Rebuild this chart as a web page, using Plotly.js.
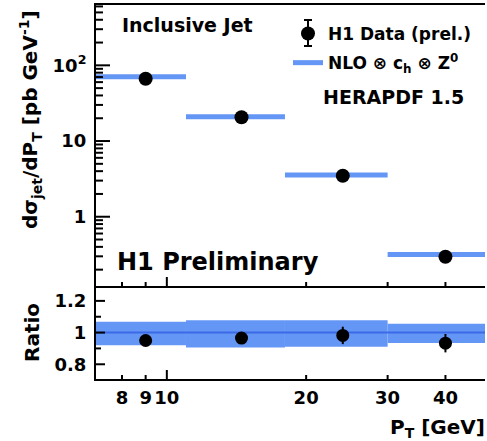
<!DOCTYPE html>
<html><head><meta charset="utf-8">
<script src="https://cdn.plot.ly/plotly-3.0.1.min.js"></script>
<style>html,body{margin:0;padding:0;background:#fff}#plot{width:487px;height:441px}</style>
</head><body><div id="plot"></div>
<script>
// ---- data ----
const binLo = [7, 11, 18, 30];
const binHi = [11, 18, 30, 50];
const ptCenter = [9, 14.5, 24, 40];
const xsecData = [66.5, 20.6, 3.48, 0.296];
const xsecErr = [2.0, 0.6, 0.2, 0.018];
const xsecNLO = [70.6, 20.9, 3.56, 0.318];
const ratioData = [0.95, 0.965, 0.982, 0.933];
const ratioErr = [0.03, 0.03, 0.055, 0.058];
const bandUp = [1.068, 1.078, 1.078, 1.055];
const bandDn = [0.920, 0.906, 0.910, 0.935];
const xTicks = [8, 9, 10, 20, 30, 40];
const xTickText = ['8', '9', '10', '20', '30', '40'];
const xMajor = [10];
const yMajor = [1, 10, 100];
const yTickAlias = {'100': '10<sup>2</sup>'};
const ratioMajor = [0.8, 1, 1.2];
const ratioMinor = [0.9, 1.1];

// ---- style ----
const FONT = 'DejaVu Sans';
const BAND = '#6496f5';
const LINE = '#3a6ae8';
const W = 487, H = 441, ML = 96, MR = 2, MT = 5, MB = 62;
const PW = W - ML - MR, PH = H - MT - MB;
const px = v => (v - ML) / PW;
const py = v => (H - MB - v) / PH;
const split = py(286);
const XR = [Math.log10(7.03), Math.log10(48.7)];
const YR2 = [-0.915, 2.797];

const traces = [];
for (let i = 0; i < binLo.length; i++) {
  traces.push({
    x: [binLo[i], binHi[i], binHi[i], binLo[i], binLo[i]],
    y: [bandDn[i], bandDn[i], bandUp[i], bandUp[i], bandDn[i]],
    xaxis: 'x', yaxis: 'y', mode: 'lines', fill: 'toself',
    fillcolor: BAND, line: {width: 0, color: BAND}, showlegend: false, hoverinfo: 'skip'
  });
}
traces.push({
  x: [binLo[0], binHi[binHi.length - 1]], y: [1, 1], xaxis: 'x', yaxis: 'y',
  mode: 'lines', line: {color: LINE, width: 2}, showlegend: false
});
traces.push({
  x: ptCenter, y: ratioData, xaxis: 'x', yaxis: 'y', mode: 'markers',
  marker: {color: 'black', size: 13},
  error_y: {type: 'data', array: ratioErr, visible: true, color: 'black', thickness: 2, width: 0},
  showlegend: false
});
const nloX = [], nloY = [];
for (let i = 0; i < binLo.length; i++) {
  nloX.push(binLo[i], binHi[i], null);
  nloY.push(xsecNLO[i], xsecNLO[i], null);
}
traces.push({
  x: nloX, y: nloY, xaxis: 'x2', yaxis: 'y2', mode: 'lines',
  line: {color: BAND, width: 5}, name: 'NLO \u2297 c<sub>h</sub> \u2297 Z<sup>0</sup>',
  legendrank: 2, legendgroup: 'b', connectgaps: false
});
traces.push({
  x: ptCenter, y: xsecData, xaxis: 'x2', yaxis: 'y2', mode: 'markers',
  marker: {color: 'black', size: 14},
  error_y: {type: 'data', array: xsecErr, visible: true, color: 'black', thickness: 2, width: 4},
  name: 'H1 Data (prel.)', legendrank: 1, legendgroup: 'a'
});

// minor tick positions of the log axis (2..9 per decade) inside the shown range
const yMinor = [];
[0.1, 1, 10, 100].forEach(d => { for (let k = 2; k <= 9; k++) {
  const v = k * d; const lv = Math.log10(v);
  if (lv > YR2[0] && lv < YR2[1]) yMinor.push(v);
} });

// tick marks: value placed through the axis scale, length in paper units
const TICK = {color: 'black', width: 2};
const yTick = (ref, v, len) => ({type: 'line', layer: 'above', xref: 'paper', x0: 0, x1: len / PW, yref: ref, y0: v, y1: v, line: TICK});
const xTick = (ref, base, v, len) => ({type: 'line', layer: 'above', xref: ref, x0: v, x1: v, yref: 'paper', y0: base, y1: base + len / PH, line: TICK});
const tickShapes = [];
yMajor.forEach(v => tickShapes.push(yTick('y2', v, 14)));
yMinor.forEach(v => tickShapes.push(yTick('y2', v, 7)));
ratioMajor.forEach(v => tickShapes.push(yTick('y', v, 9)));
ratioMinor.forEach(v => tickShapes.push(yTick('y', v, 5)));
xTicks.forEach(v => {
  const len = xMajor.includes(v) ? 9 : 4;
  tickShapes.push(xTick('x', 0, v, len));
  tickShapes.push(xTick('x2', split, v, len));
});

const TF = {family: FONT, size: 18, color: 'black', weight: 'bold'};
const base = {
  showline: true, linecolor: 'black', linewidth: 2, ticks: '',
  showgrid: false, zeroline: false, tickfont: TF
};

const layout = {
  width: W, height: H, margin: {l: ML, r: MR, t: MT, b: MB},
  paper_bgcolor: 'white', plot_bgcolor: 'white',
  font: {family: FONT, size: 18, color: 'black', weight: 'bold'},
  xaxis: Object.assign({}, base, {
    type: 'log', range: XR, anchor: 'y', domain: [0, 1],
    tickmode: 'array', tickvals: xTicks, ticktext: xTickText, ticklabelstandoff: 1
  }),
  yaxis: Object.assign({}, base, {
    domain: [0, split], range: [0.707, 1.294], anchor: 'x',
    tickmode: 'linear', tick0: 0.8, dtick: 0.2, ticklabelstandoff: 4
  }),
  xaxis2: Object.assign({}, base, {
    type: 'log', range: XR, anchor: 'y2', domain: [0, 1], mirror: true,
    tickmode: 'array', tickvals: xTicks, showticklabels: false
  }),
  yaxis2: Object.assign({}, base, {
    type: 'log', domain: [split, 1], range: YR2, anchor: 'x2',
    tickmode: 'linear', tick0: 0, dtick: 1, labelalias: yTickAlias, ticklabelstandoff: 4
  }),
  showlegend: true,
  legend: {
    x: px(288), y: py(16), xanchor: 'left', yanchor: 'top', bgcolor: 'rgba(0,0,0,0)',
    font: {family: FONT, size: 17, color: 'black', weight: 'bold'}, tracegroupgap: 4,
    traceorder: 'grouped'
  },
  shapes: tickShapes.concat([
    {type: 'line', xref: 'paper', yref: 'paper', x0: px(308), x1: px(308), y0: py(20), y1: py(46), line: {color: 'black', width: 2}},
    {type: 'line', xref: 'paper', yref: 'paper', x0: px(304), x1: px(312), y0: py(20), y1: py(20), line: {color: 'black', width: 2}},
    {type: 'line', xref: 'paper', yref: 'paper', x0: px(304), x1: px(312), y0: py(46), y1: py(46), line: {color: 'black', width: 2}}
  ]),
  annotations: [
    {text: 'Inclusive Jet', x: px(120), y: py(25), xref: 'paper', yref: 'paper', xanchor: 'left', yanchor: 'middle', showarrow: false, font: {family: FONT, size: 19, weight: 'bold'}},
    {text: 'H1 Preliminary', x: px(115), y: py(262), xref: 'paper', yref: 'paper', xanchor: 'left', yanchor: 'middle', showarrow: false, font: {family: FONT, size: 24, weight: 'bold'}},
    {text: 'HERAPDF 1.5', x: px(321), y: py(97), xref: 'paper', yref: 'paper', xanchor: 'left', yanchor: 'middle', showarrow: false, font: {family: FONT, size: 19, weight: 'bold'}},
    {text: 'd\u03c3<sub>jet</sub>/dP<sub>T</sub> [pb GeV<sup>-1</sup>]', x: px(30), y: py(120), xref: 'paper', yref: 'paper', xanchor: 'center', yanchor: 'middle', textangle: -90, showarrow: false, font: {family: FONT, size: 20, weight: 'bold'}},
    {text: 'Ratio', x: px(32), y: py(333), xref: 'paper', yref: 'paper', xanchor: 'center', yanchor: 'middle', textangle: -90, showarrow: false, font: {family: FONT, size: 20, weight: 'bold'}},
    {text: 'P<sub>T</sub> [GeV]', x: px(487), y: py(428), xref: 'paper', yref: 'paper', xanchor: 'right', yanchor: 'middle', showarrow: false, font: {family: FONT, size: 20, weight: 'bold'}}
  ]
};

Plotly.newPlot('plot', traces, layout, {staticPlot: true, displayModeBar: false});
</script>
</body></html>
